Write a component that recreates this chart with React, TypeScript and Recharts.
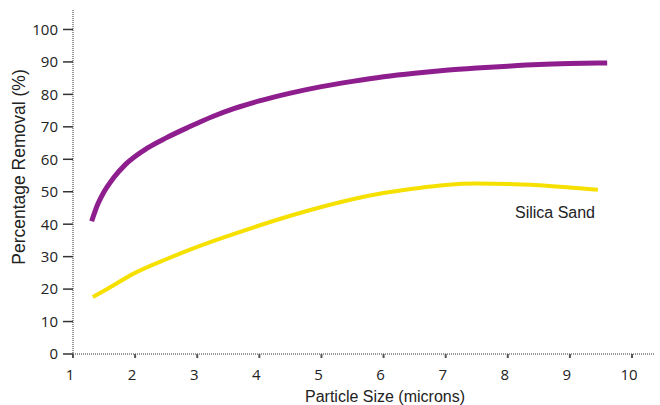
import React from 'react';
import { LineChart, Line, XAxis, YAxis, ReferenceDot } from 'recharts';

// particle size (microns) and removal (%)
const upperSizes = [1.3, 1.4, 1.5, 1.65, 1.85, 2.2, 2.5, 2.85, 3.25, 3.6, 4, 4.5, 5, 5.5, 6, 6.5, 7, 7.5, 8, 8.5, 9, 9.6];
const upperRemoval = [40.9, 46.2, 50, 54.2, 58.5, 63.5, 66.6, 69.8, 73.2, 75.7, 78, 80.4, 82.4, 84, 85.4, 86.5, 87.4, 88.1, 88.7, 89.2, 89.5, 89.7];

const sandSizes = [1.32, 1.5, 2, 2.5, 3, 3.5, 4, 4.5, 5, 5.5, 6, 6.5, 7, 7.5, 8, 8.5, 9, 9.45];
const sandRemoval = [17.6, 19.5, 25, 29.2, 33, 36.4, 39.6, 42.6, 45.3, 47.7, 49.6, 51, 52.1, 52.5, 52.4, 52, 51.3, 50.6];

const xTicks = [1, 2, 3, 4, 5, 6, 7, 8, 9, 10];
const yTicks = [0, 10, 20, 30, 40, 50, 60, 70, 80, 90, 100];

const upperData = upperSizes.map((x, i) => ({ x, y: upperRemoval[i] }));
const sandData = sandSizes.map((x, i) => ({ x, y: sandRemoval[i] }));

const tickStyle = { fontSize: 15, fill: '#222', fontFamily: '"Open Sans", sans-serif' };
const axisLine = { stroke: '#777', strokeDasharray: '1 1', strokeWidth: 1.5 };
const titleFont = '"Liberation Sans", Arial, sans-serif';

export default function App() {
  return (
    <div style={{ position: 'absolute', left: 0, top: 0, background: '#fff' }}>
      <LineChart width={660} height={405} margin={{ top: 10, right: 5, bottom: 21, left: 0 }}>
        <XAxis
          dataKey="x"
          type="number"
          domain={[1, 10.37]}
          ticks={xTicks}
          allowDataOverflow
          axisLine={axisLine}
          tickLine={{ stroke: '#555', strokeWidth: 2 }}
          tickSize={4}
          tick={{ ...tickStyle, dx: -3, dy: 9 }}
          height={30}
          label={{
            value: 'Particle Size (microns)',
            position: 'insideBottom',
            offset: -18,
            dx: 21,
            style: { fontSize: 16, fill: '#222', fontFamily: titleFont },
          }}
        />
        <YAxis
          type="number"
          domain={[0, 106]}
          ticks={yTicks}
          allowDataOverflow
          axisLine={axisLine}
          tickLine={{ stroke: '#333', strokeWidth: 1.5 }}
          tickSize={10}
          tick={{ ...tickStyle, dx: -3 }}
          width={73}
          label={{
            value: 'Percentage Removal (%)',
            angle: -90,
            position: 'insideLeft',
            dx: 14,
            dy: -15,
            style: { textAnchor: 'middle', fontSize: 17.5, fill: '#222', fontFamily: titleFont },
          }}
        />
        <Line
          data={upperData}
          dataKey="y"
          stroke="#8E1E8E"
          strokeWidth={5}
          dot={false}
          type="monotone"
          isAnimationActive={false}
        />
        <Line
          data={sandData}
          dataKey="y"
          stroke="#F5E000"
          strokeWidth={4}
          dot={false}
          type="monotone"
          isAnimationActive={false}
        />
        <ReferenceDot
          x={8.76}
          y={43.8}
          r={0}
          label={{
            value: 'Silica Sand',
            position: 'center',
            style: { fontSize: 16, fill: '#222', fontFamily: titleFont },
          }}
        />
      </LineChart>
    </div>
  );
}
